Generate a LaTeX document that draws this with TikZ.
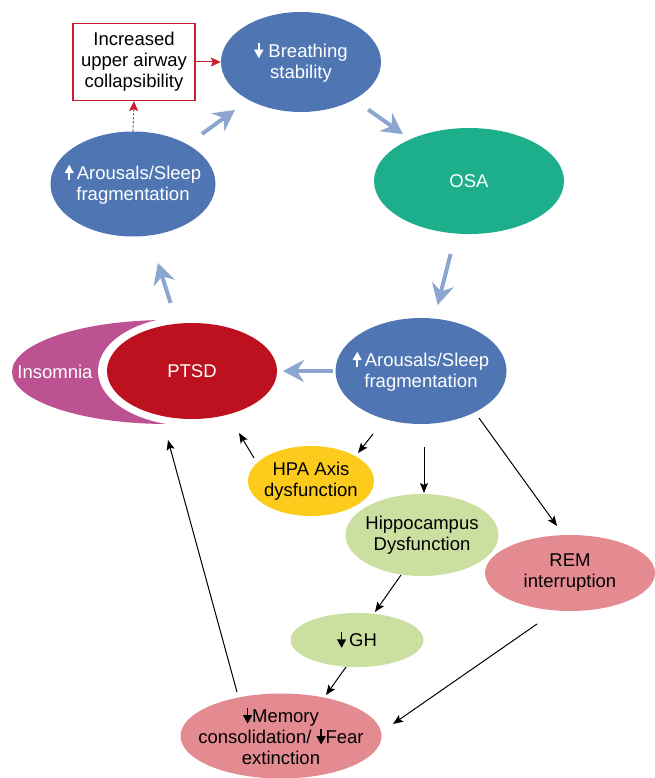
\documentclass[tikz,border=0pt]{standalone}
\usepackage{fontspec}
\setmainfont{Liberation Sans}
\usetikzlibrary{shapes.geometric,arrows.meta,calc}
\definecolor{ablue}{RGB}{79,118,179}
\definecolor{osagreen}{RGB}{29,175,139}
\definecolor{ptsdred}{RGB}{190,17,32}
\definecolor{insom}{RGB}{188,82,145}
\definecolor{hpay}{RGB}{253,203,27}
\definecolor{lgreen}{RGB}{203,223,161}
\definecolor{pinkr}{RGB}{228,138,145}
\definecolor{lblue}{RGB}{141,166,207}
\definecolor{boxred}{RGB}{200,30,45}
\newcommand\arrup[1]{\tikz[baseline=0pt,x=1pt,y=1pt]\draw[color=#1,line width=1.6pt,-{Triangle[length=8.5pt,width=9pt]}] (0,-1)--(0,14.5);}
\newcommand\arrdn[1]{\tikz[baseline=0pt,x=1pt,y=1pt]\draw[color=#1,line width=1.6pt,-{Triangle[length=8.5pt,width=9pt]}] (0,14.5)--(0,-1);}
\begin{document}
\begin{tikzpicture}[x=1pt,y=-1pt,font=\fontsize{18.5}{21}\selectfont,
  ell/.style={ellipse,inner sep=-30pt,align=center},
  bigarrow/.style={line width=4pt,color=lblue,-{Stealth[length=21pt,width=22pt,inset=7pt]}},
  blk/.style={line width=1pt,-{Stealth[length=10pt,width=8pt,inset=2pt]}},
  redarr/.style={line width=1pt,color=boxred,-{Stealth[length=10pt,width=9pt,inset=2pt]}}]
\useasboundingbox (0,0) rectangle (654,778);
% insomnia crescent
\fill[insom] (167,320) arc[start angle=270,end angle=90,x radius=155,y radius=52] -- cycle;
\fill[white] (192,371) ellipse[x radius=94,y radius=55];
\node[ell,fill=ptsdred,text=white,minimum width=170pt,minimum height=96pt] (ptsd) at (192,371) {PTSD};
\node[text=white,inner sep=0pt] (ins) at (55,372) {Insomnia};
% nodes
\node[ell,fill=ablue,text=white,minimum width=160pt,minimum height=100pt] (br) at (301,62) {\arrdn{white} Breathing\\stability};
\node[draw=boxred,line width=1.2pt,fill=white,minimum width=122pt,minimum height=77pt,inner sep=0pt,align=center] (box) at (134,62) {Increased\\upper airway\\collapsibility};
\node[ell,fill=ablue,text=white,minimum width=165pt,minimum height=105pt] (arTL) at (133,184) {\arrup{white}\,Arousals/Sleep\\fragmentation};
\node[ell,fill=osagreen,text=white,minimum width=190pt,minimum height=106pt] (osa) at (469,181) {OSA};
\node[ell,fill=ablue,text=white,minimum width=171pt,minimum height=106pt] (arR) at (421,371) {\arrup{white}\,Arousals/Sleep\\fragmentation};
\node[ell,fill=hpay,minimum width=126pt,minimum height=70pt] (hpa) at (311,481) {HPA Axis\\dysfunction};
\node[ell,fill=lgreen,minimum width=153pt,minimum height=82pt] (hip) at (422,535) {Hippocampus\\Dysfunction};
\node[ell,fill=pinkr,minimum width=170pt,minimum height=76pt] (rem) at (570,573) {REM\\interruption};
\node[ell,fill=lgreen,minimum width=133pt,minimum height=54pt] (gh) at (357,640) {\arrdn{black}\,GH};
\node[ell,fill=pinkr,minimum width=201pt,minimum height=85pt] (mem) at (281,736) {\arrdn{black}Memory\\consolidation/ \arrdn{black}Fear\\extinction};
% blue cycle arrows
\draw[bigarrow] ($(arTL)!0.41!(br)$) -- ($(arTL)!0.607!(br)$);
\draw[bigarrow] ($(br)!0.4!(osa)$) -- ($(br)!0.607!(osa)$);
\draw[bigarrow] ($(osa)!0.384!(arR)$) -- ($(osa)!0.653!(arR)$);
\draw[bigarrow] ($(arR)!0.384!(ptsd)$) -- ($(arR)!0.603!(ptsd)$);
\draw[bigarrow] ($(ptsd)!0.364!(arTL)$) -- ($(ptsd)!0.578!(arTL)$);
% red arrows
\draw[redarr] (box.east) -- (br.west);
\draw[redarr,dash pattern=on 2pt off 2pt] (arTL.north) -- (box.south);
% black arrows
\draw[blk] ($(arR)+(-48,63)$) -- ($(hpa)+(47,-28)$);
\draw[blk] ($(hpa)+(-57,-23)$) -- ($(ptsd)+(47,62)$);
\draw[blk] ($(arR)+(3,76)$) -- ($(hip)+(2,-42)$);
\draw[blk] ($(arR)+(58,47)$) -- ($(rem)+(-13,-47)$);
\draw[blk] ($(hip)+(-21,40)$) -- ($(gh)+(18,-28)$);
\draw[blk] ($(gh)+(-11,27)$) -- ($(mem)+(45,-41)$);
\draw[blk] ($(rem)+(-33,51)$) -- ($(mem)+(112,-12)$);
\draw[blk] ($(mem)+(-44,-44)$) -- ($(ptsd)+(-24,69)$);
\end{tikzpicture}
\end{document}
